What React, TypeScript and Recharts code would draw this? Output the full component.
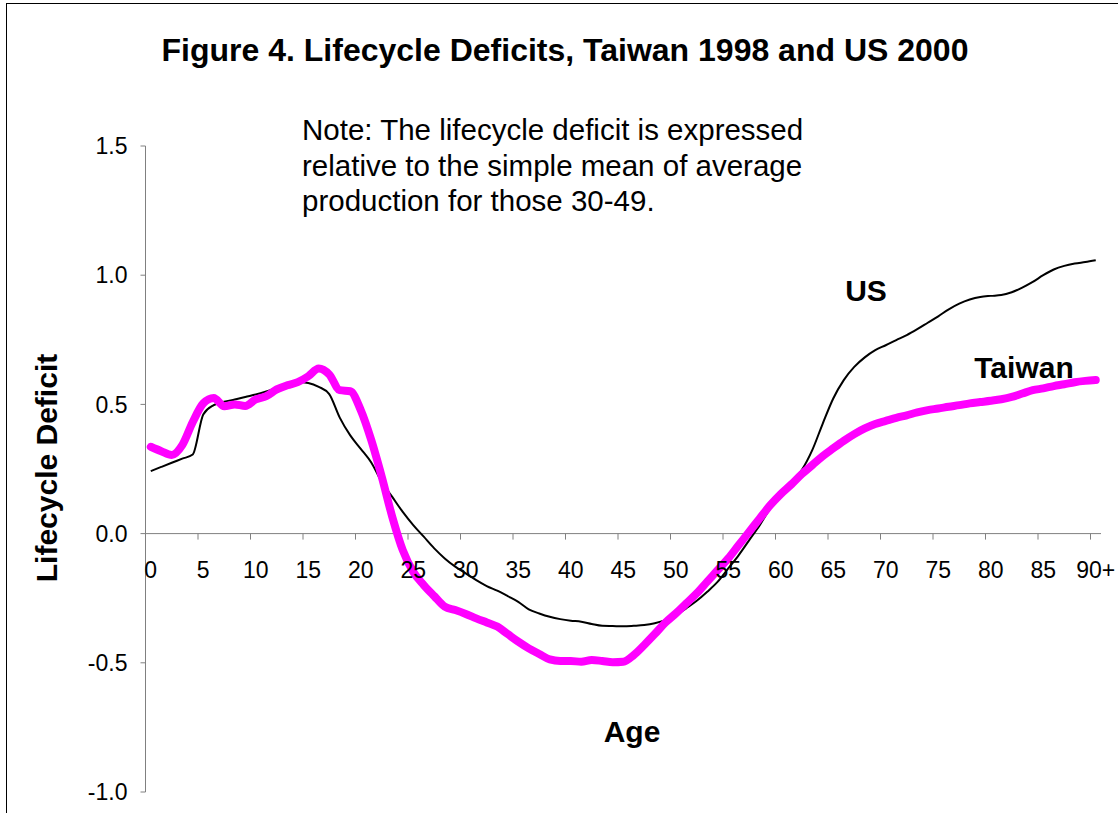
import { LineChart, Line, XAxis, YAxis, ReferenceLine } from 'recharts'

// categories: single years of age, the last one is "90+"
const ages = Array.from({ length: 91 }, (_, i) => i)
const ageTicks = [0, 5, 10, 15, 20, 25, 30, 35, 40, 45, 50, 55, 60, 65, 70, 75, 80, 85, 90]
const deficitTicks = [-1, -0.5, 0, 0.5, 1, 1.5]

const taiwan = [
  0.336, 0.319, 0.304, 0.342, 0.432, 0.504, 0.525, 0.493, 0.5, 0.494,
  0.519, 0.532, 0.558, 0.574, 0.586, 0.609, 0.639, 0.616, 0.555, 0.551,
  0.478, 0.362, 0.22, 0.065, -0.064, -0.148, -0.199, -0.242, -0.283, -0.296,
  -0.311, -0.328, -0.344, -0.36, -0.389, -0.418, -0.444, -0.466, -0.487, -0.493,
  -0.493, -0.496, -0.489, -0.493, -0.498, -0.496, -0.47, -0.431, -0.389, -0.345,
  -0.309, -0.27, -0.231, -0.186, -0.141, -0.096, -0.044, 0.007, 0.059, 0.11,
  0.153, 0.19, 0.23, 0.265, 0.3, 0.33, 0.359, 0.385, 0.407, 0.424,
  0.436, 0.448, 0.458, 0.469, 0.478, 0.484, 0.491, 0.497, 0.504, 0.509,
  0.514, 0.52, 0.529, 0.542, 0.555, 0.562, 0.571, 0.578, 0.586, 0.591,
  0.594,
]

const us = [
  0.242, 0.258, 0.274, 0.29, 0.306, 0.461, 0.497, 0.51, 0.519, 0.529,
  0.538, 0.55, 0.564, 0.577, 0.587, 0.583, 0.568, 0.54, 0.449, 0.38,
  0.328, 0.275, 0.2, 0.142, 0.084, 0.033, -0.012, -0.057, -0.096, -0.128,
  -0.154, -0.18, -0.203, -0.221, -0.242, -0.264, -0.293, -0.309, -0.322, -0.331,
  -0.337, -0.341, -0.35, -0.357, -0.358, -0.359, -0.357, -0.354, -0.347, -0.335,
  -0.315, -0.289, -0.26, -0.225, -0.186, -0.135, -0.083, -0.025, 0.033, 0.097,
  0.15, 0.197, 0.246, 0.323, 0.426, 0.523, 0.594, 0.645, 0.682, 0.71,
  0.729, 0.749, 0.768, 0.791, 0.816, 0.841, 0.868, 0.89, 0.906, 0.916,
  0.92, 0.923, 0.934, 0.952, 0.974, 1.0, 1.022, 1.036, 1.045, 1.051,
  1.058,
]

const data = ages.map((age, i) => ({ age, taiwan: taiwan[i], us: us[i] }))

const W = 1118
const H = 813
const margin = { top: 146, right: 17, bottom: 20, left: 0 }
const xAxisHeight = 1
const yAxisWidth = 145.5
const plotH = H - margin.top - margin.bottom - xAxisHeight
const plotW = W - margin.left - margin.right - yAxisWidth
// x axis crosses at 0 on a -1..1.5 scale
const zeroY = margin.top + (plotH * 1.5) / 2.5
const halfStep = plotW / ages.length / 2

const font = 'Arial, "Liberation Sans", sans-serif'

function AgeTick(props: any) {
  const { x, payload } = props
  return (
    <g>
      <line x1={x - halfStep} x2={x - halfStep} y1={zeroY} y2={zeroY + 6} stroke="#808080" />
      <text x={x} y={zeroY + 44} textAnchor="middle" fontSize={23} fontFamily={font} fill="#000">
        {payload.value === 90 ? '90+' : payload.value}
      </text>
    </g>
  )
}

const bold = { fontFamily: font, fontWeight: 700, color: '#000', position: 'absolute' as const, whiteSpace: 'nowrap' as const, lineHeight: 1 }

export default function App() {
  return (
    <div style={{ position: 'absolute', top: 0, left: 0, width: W, height: H, background: '#fff', overflow: 'hidden' }}>
      <div style={{ position: 'absolute', left: 6, top: 3, width: W, height: H, borderTop: '1px solid #000', borderLeft: '1px solid #000' }} />
      <LineChart width={W} height={H} data={data} margin={margin}>
        <XAxis
          dataKey="age"
          type="number"
          domain={[-0.5, 90.5]}
          ticks={ageTicks}
          axisLine={false}
          tickLine={false}
          height={xAxisHeight}
          tick={<AgeTick />}
          interval={0}
        />
        <YAxis
          type="number"
          domain={[-1, 1.5]}
          ticks={deficitTicks}
          width={yAxisWidth}
          stroke="#808080"
          tickSize={5}
          tickMargin={13}
          tick={{ fill: '#000', fontSize: 23, fontFamily: font }}
          tickFormatter={(v: number) => v.toFixed(1)}
          interval={0}
        />
        <ReferenceLine y={0} stroke="#808080" />
        <Line dataKey="us" type="monotone" stroke="#000" strokeWidth={2} dot={false} isAnimationActive={false} />
        <Line dataKey="taiwan" type="monotone" stroke="#FF00FF" strokeWidth={8} dot={false} isAnimationActive={false} strokeLinejoin="round" strokeLinecap="round" />
      </LineChart>
      <div style={{ ...bold, fontSize: 32, left: 565, top: 50, transform: 'translate(-50%, -50%)' }}>
        Figure 4. Lifecycle Deficits, Taiwan 1998 and US 2000
      </div>
      <div style={{ position: 'absolute', left: 302, top: 112, fontFamily: font, fontSize: 29.5, lineHeight: '35.5px', color: '#000', whiteSpace: 'nowrap' }}>
        Note: The lifecycle deficit is expressed
        <br />
        relative to the simple mean of average
        <br />
        production for those 30-49.
      </div>
      <div style={{ ...bold, fontSize: 30, left: 47, top: 468, transform: 'translate(-50%, -50%) rotate(-90deg)' }}>
        Lifecycle Deficit
      </div>
      <div style={{ ...bold, fontSize: 30, left: 632, top: 732, transform: 'translate(-50%, -50%)' }}>Age</div>
      <div style={{ ...bold, fontSize: 30, left: 866, top: 291, transform: 'translate(-50%, -50%)' }}>US</div>
      <div style={{ ...bold, fontSize: 30, left: 1024, top: 368, transform: 'translate(-50%, -50%)' }}>Taiwan</div>
    </div>
  )
}
